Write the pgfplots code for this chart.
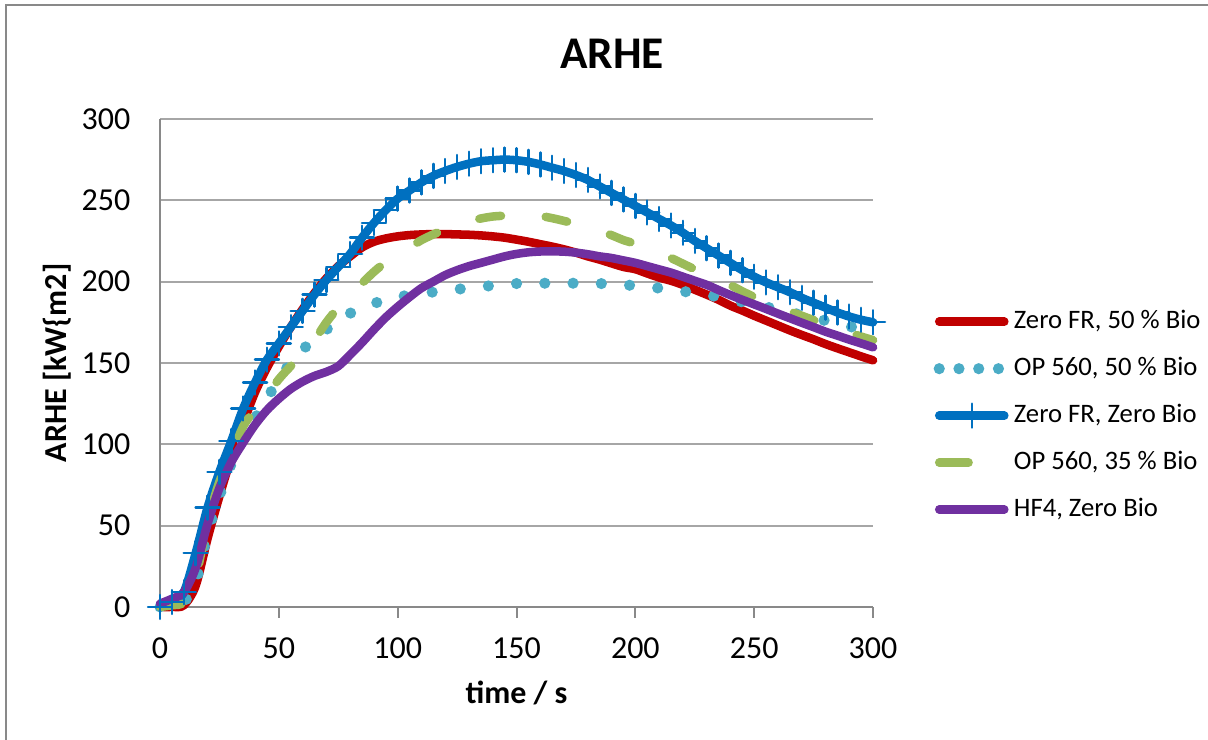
\documentclass[border=0pt]{standalone}
\usepackage{fontspec}
\setmainfont{Carlito}
\usepackage{pgfplots}
\pgfplotsset{compat=1.18}

\definecolor{cRed}{HTML}{C00000}
\definecolor{cTeal}{HTML}{4BACC6}
\definecolor{cBlue}{HTML}{0070C0}
\definecolor{cGreen}{HTML}{9BBB59}
\definecolor{cPurple}{HTML}{7030A0}
\definecolor{cFrame}{HTML}{898989}
\definecolor{cGrid}{HTML}{A6A6A6}

\begin{document}
\begin{tikzpicture}
\useasboundingbox (0,0) rectangle (453pt,277.5pt);
\draw[cFrame, line width=0.75pt] (2.4pt,-1pt) -- (2.4pt,275.6pt) -- (454pt,275.6pt);

\begin{axis}[
    at={(60pt,49.9pt)}, anchor=south west,
    scale only axis,
    width=267.4pt, height=183pt,
    xmin=0, xmax=300,
    ymin=0, ymax=300,
    xtick={0,50,...,300},
    ytick={0,50,...,300},
    axis lines*=left,
    axis line style={cFrame, line width=0.75pt},
    ymajorgrids,
    major grid style={cGrid, line width=0.75pt},
    tick align=outside,
    major tick length=4pt,
    x tick style={cFrame, line width=0.75pt},
    y tick style={draw=none},
    /pgf/number format/assume math mode=true,
    tick label style={font=\fontsize{12}{14}\selectfont},
    yticklabel style={xshift=-3.6pt},
    xticklabel style={yshift=-4pt},
    clip=false,
    title={ARHE},
    title style={at={(0.634,1.07)}, anchor=base, font=\fontsize{17}{20}\selectfont\bfseries},
    xlabel={time / s},
    ylabel={ARHE [kW\{m2]},
    label style={font=\fontsize{12}{14}\selectfont\bfseries},
    xlabel style={at={(axis description cs:0.5,-0.176)}, anchor=center},
    ylabel style={at={(axis description cs:-0.144,0.5)}, anchor=center},
    legend image code/.code={\draw[mark repeat=2,mark phase=2,#1] plot coordinates {(0pt,0pt) (12.2pt,0pt) (24.4pt,0pt)};},
    legend cell align=left,
    legend style={draw=none, fill=none, at={(1.073,0.621)}, anchor=north west,
        font=\fontsize{10}{12}\selectfont,
        nodes={inner sep=0pt, text height=7pt, text depth=2pt},
        row sep=8.6pt, column sep=1.5pt},
    every axis plot/.append style={line cap=round, line join=round},
]

% Zero FR, 50 % Bio
\addplot[cRed, line width=3.2pt, smooth] coordinates {
(0,0) (5,0) (10,1) (15,13) (20,42) (25,68) (30,92) (35,113) (40,132) (45,147)
(50,160) (55,172) (60,183) (65,193) (70,202) (75,209.5) (80,215.5) (85,221) (90,224.5) (95,226.5)
(100,227.8) (105,228.6) (110,229) (115,229.2) (120,229.2) (125,229) (130,228.8) (135,228.4) (140,227.8) (145,227)
(150,225.8) (155,224.5) (160,223) (165,221.5) (170,219.8) (175,217.8) (180,215.5) (185,213.5) (190,211.2) (195,209)
(200,207.6) (205,205) (210,202.5) (215,200.5) (220,198) (225,195) (230,192) (235,188.8) (240,185.2) (245,182.2)
(250,179) (255,176) (260,173) (265,170) (270,167.2) (275,164.5) (280,161.6) (285,159) (290,156.5) (295,154)
(300,151.6)
};
\addlegendentry{Zero FR, 50 \% Bio}

% OP 560, 50 % Bio
\addplot[cTeal, line width=4.2pt, dash pattern=on 0pt off 10.6pt, smooth,
    legend image post style={dash pattern=on 0pt off 7.4pt}] coordinates {
(0,0) (5,1) (10,3) (15,15) (20,45) (25,68) (30,88) (35,105) (40,116) (45,128)
(50,140) (55,150) (60,158) (65,165) (70,170.5) (75,176) (80,180.5) (85,184) (90,186.5) (95,189)
(100,190.5) (105,191.7) (110,192.7) (115,193.6) (120,194.5) (125,195.3) (130,196) (135,196.8) (140,197.6) (145,198.2)
(150,198.8) (155,199) (160,199) (165,199) (170,199) (175,199) (180,199) (185,198.8) (190,198.5) (195,198)
(200,197.5) (205,196.7) (210,196) (215,195.2) (220,194) (225,193) (230,191.8) (235,190.5) (240,189) (245,187.5)
(250,186) (255,184.4) (260,182.8) (265,181) (270,179.5) (275,177.8) (280,176) (285,174.3) (290,172.5) (295,170.5)
(300,168.5)
};
\addlegendentry{OP 560, 50 \% Bio}

% Zero FR, Zero Bio
\addplot[cBlue, line width=3.2pt, smooth, mark=+,
    mark options={line width=0.9pt, mark size=4.5pt}] coordinates {
(0,0) (5,3) (10,9) (15,33) (20,61) (25,83) (30,102) (35,122) (40,138) (45,152)
(50,162) (55,172) (60,182) (65,192) (70,201) (75,209) (80,217) (85,227) (90,236) (95,244)
(100,251) (105,256) (110,261) (115,265) (120,268) (125,270.5) (130,272.5) (135,274) (140,274.6) (145,275)
(150,274.6) (155,273.6) (160,272) (165,270) (170,268) (175,265.5) (180,262.5) (185,258.5) (190,254.5) (195,250.5)
(200,246.5) (205,242.5) (210,238.5) (215,234.5) (220,230) (225,225) (230,220.5) (235,216) (240,211.5) (245,207)
(250,203) (255,199.5) (260,196.5) (265,193.5) (270,190) (275,187) (280,184) (285,181) (290,178.5) (295,176.5)
(300,175)
};
\addlegendentry{Zero FR, Zero Bio}

% OP 560, 35 % Bio
\addplot[cGreen, line width=3.2pt, dash pattern=on 8.2pt off 16.8pt, smooth,
    legend image post style={dash pattern=on 11pt off 20pt}] coordinates {
(0,0) (5,1) (10,3) (15,18) (20,52) (25,77) (30,93) (35,111) (40,121) (45,130)
(50,140) (55,148) (60,155) (65,164) (70,175) (75,184) (80,192) (85,199) (90,206) (95,212)
(100,217) (105,221) (110,225.5) (115,229) (120,232) (125,235) (130,237) (135,238.8) (140,240) (145,240.5)
(150,240.6) (155,240.6) (160,240.3) (165,239) (170,237.3) (175,235.5) (180,233.3) (185,231) (190,228.5) (195,225.5)
(200,223.3) (205,220.5) (210,217.5) (215,214.5) (220,211) (225,207.5) (230,204) (235,200.8) (240,197.8) (245,194)
(250,190.5) (255,187.3) (260,184.5) (265,181.7) (270,179) (275,176.3) (280,173.6) (285,171) (290,168.6) (295,166.2)
(300,164)
};
\addlegendentry{OP 560, 35 \% Bio}

% HF4, Zero Bio
\addplot[cPurple, line width=3.2pt, smooth] coordinates {
(0,2) (5,5) (10,9) (15,24) (20,51) (25,73) (30,89) (35,101) (40,112) (45,121)
(50,128) (55,134) (60,138.5) (65,142) (70,144.5) (75,148) (80,155) (85,162.5) (90,170.5) (95,178)
(100,184.5) (105,190.5) (110,196) (115,200) (120,204) (125,207) (130,209.5) (135,211.5) (140,213.5) (145,215.5)
(150,217) (155,218) (160,218.5) (165,218.6) (170,218.4) (175,217.8) (180,216.8) (185,215.5) (190,214.5) (195,213)
(200,211.5) (205,209.5) (210,207.5) (215,205.5) (220,203) (225,200.5) (230,198) (235,194.8) (240,191.7) (245,188.8)
(250,186) (255,183.2) (260,180.3) (265,177.5) (270,174.7) (275,172) (280,169.2) (285,166.8) (290,164.3) (295,162)
(300,159.6)
};
\addlegendentry{HF4, Zero Bio}

\end{axis}
\end{tikzpicture}
\end{document}
